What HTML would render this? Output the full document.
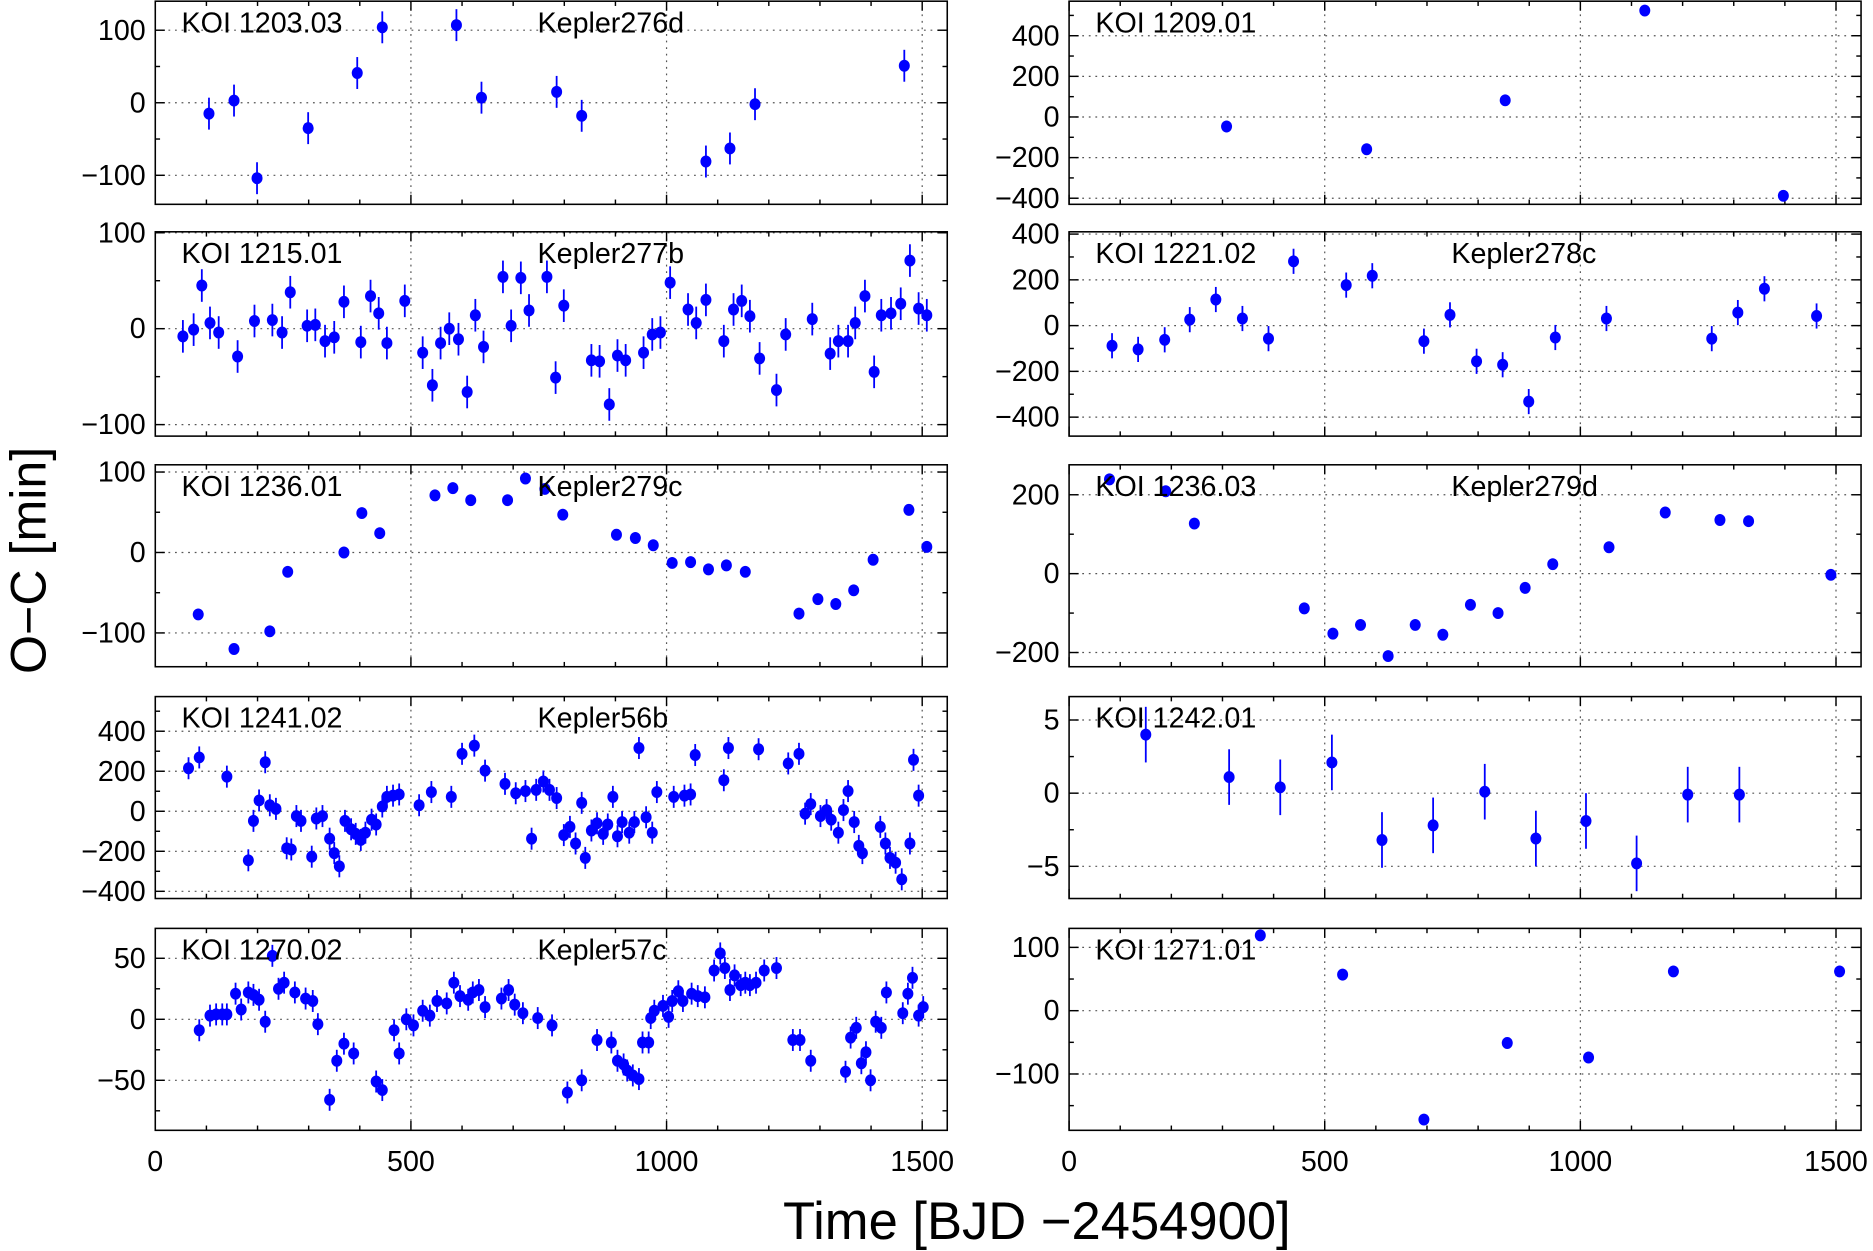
<!DOCTYPE html>
<html><head><meta charset="utf-8"><style>
html,body{margin:0;padding:0;background:#fff}
svg{display:block}
text{font-family:"Liberation Sans",sans-serif;fill:#000}
</style></head><body>
<svg id="fig" width="1873" height="1251" viewBox="0 0 1568 1047" preserveAspectRatio="none" xmlns="http://www.w3.org/2000/svg">
<text x="0" y="0" font-size="42" text-anchor="middle" transform="translate(38,469) rotate(-90)">O−C [min]</text>
<text x="868" y="1037" font-size="44" text-anchor="middle">Time [BJD −2454900]</text>
</svg>
<script>
// ---- data (time in BJD-2454900, O-C in minutes) ----
const p1203_t=[105,154,199,299,395,444,589,638,785,834,1077,1124,1173,1465];
const p1203_v=[-15,3,-104,-35,41,104,107,7,15,-18,-81,-63,-2,51];
const p1209_t=[308,582,853,1126,1397];
const p1209_v=[-47,-159,82,524,-388];
const p1215_t=[54,75,91,107,124,161,194,229,248,264,297,313,332,350,369,402,421,437,453,488,523,542,558,575,593,610,626,642,680,696,715,731,766,783,799,853,869,888,904,920,955,972,988,1007,1042,1058,1077,1112,1131,1147,1163,1182,1215,1233,1285,1320,1336,1355,1369,1388,1406,1420,1439,1458,1476,1493,1509];
const p1215_v=[-8,-1,45,6,-4,-29,8,9,-4,38,3,4,-13,-9,28,-14,34,16,-15,29,-25,-59,-15,0,-11,-66,14,-19,54,3,53,19,54,-51,24,-33,-34,-79,-28,-33,-25,-6,-4,48,20,6,30,-13,20,29,13,-31,-64,-6,10,-26,-13,-13,6,34,-45,14,16,26,71,21,14];
const p1221_t=[84,135,187,236,287,339,390,439,542,593,694,745,797,848,899,951,1051,1257,1308,1360,1462];
const p1221_v=[-88,-104,-62,26,114,31,-57,281,177,218,-68,47,-156,-171,-332,-52,31,-57,57,161,42];
const p1236a_t=[84,154,224,259,369,404,439,547,582,617,689,724,762,797,902,939,974,1011,1047,1082,1117,1154,1259,1296,1331,1366,1404,1474,1509];
const p1236a_v=[-77,-120,-98,-24,0,49,24,71,80,65,65,92,79,47,22,18,9,-13,-12,-21,-16,-24,-76,-58,-64,-47,-9,53,7];
const p1236c_t=[79,189,245,460,516,570,624,677,731,785,839,892,946,1056,1166,1273,1329,1490];
const p1236c_v=[239,209,127,-88,-152,-130,-209,-130,-155,-79,-100,-36,24,67,155,136,133,-3];
const p1241_t=[65,86,140,182,192,203,215,224,236,257,266,276,285,306,315,327,341,350,360,371,383,392,402,411,423,432,444,453,465,477,516,540,579,600,624,645,684,705,724,736,745,759,771,785,799,811,822,834,841,853,864,876,885,895,904,913,927,937,946,960,972,981,1014,1035,1047,1056,1112,1121,1180,1238,1259,1271,1282,1301,1313,1322,1336,1346,1355,1367,1376,1383,1418,1428,1437,1448,1460,1476,1483,1493];
const p1241_v=[215,269,173,-245,-48,54,245,30,12,-185,-191,-24,-48,-227,-36,-24,-137,-209,-275,-48,-90,-113,-143,-107,-42,-66,24,72,78,84,30,96,72,287,328,203,137,90,101,-137,107,149,107,66,-119,-78,-161,42,-233,-96,-60,-113,-66,72,-125,-54,-107,-54,316,-30,-107,96,72,78,84,281,155,316,310,239,287,-12,36,-24,6,-42,-107,6,101,-54,-173,-209,-78,-161,-233,-257,-340,-161,257,78];
const p1242_t=[150,313,413,514,612,712,813,913,1011,1110,1210,1311];
const p1242_v=[4.0,1.1,0.4,2.1,-3.2,-2.2,0.1,-3.1,-1.9,-4.8,-0.1,-0.1];
const p1270_t=[86,107,119,131,140,157,168,182,192,203,215,229,241,252,273,294,308,318,341,355,369,388,432,444,467,477,491,505,523,537,551,570,584,596,612,621,633,645,677,691,703,719,748,776,806,834,864,892,904,916,923,934,946,953,965,969,976,993,1004,1011,1023,1032,1049,1061,1075,1093,1105,1114,1124,1133,1145,1154,1163,1175,1191,1215,1247,1261,1282,1350,1360,1371,1381,1390,1399,1409,1420,1430,1462,1472,1481,1493,1502];
const p1270_v=[-9,3,4,4,4,21,8,22,20,16,-2,52,25,30,22,17,15,-4,-66,-34,-20,-28,-51,-58,-9,-28,0,-5,7,3,15,13,30,19,16,22,24,10,17,24,12,5,1,-5,-60,-50,-17,-19,-34,-37,-42,-46,-49,-19,-19,1,7,11,2,15,23,15,21,19,18,40,54,42,24,36,28,30,28,30,40,42,-17,-17,-34,-43,-15,-7,-36,-27,-50,-2,-7,22,5,21,34,3,10];
const p1271_t=[374,535,694,857,1016,1182,1507];
const p1271_v=[119,57,-172,-51,-74,62,62];

const panels=[
 {id:'koi-1203-03',koi:'KOI 1203.03',kep:'Kepler276d',col:0,row:0,ymin:-140,ymax:140,ticks:[-100,0,100],minor:50,t:p1203_t,v:p1203_v,err:22},
 {id:'koi-1209-01',koi:'KOI 1209.01',kep:'',col:1,row:0,ymin:-430,ymax:570,ticks:[-400,-200,0,200,400],minor:100,t:p1209_t,v:p1209_v,err:0},
 {id:'koi-1215-01',koi:'KOI 1215.01',kep:'Kepler277b',col:0,row:1,ymin:-112,ymax:101,ticks:[-100,0,100],minor:50,t:p1215_t,v:p1215_v,err:17},
 {id:'koi-1221-02',koi:'KOI 1221.02',kep:'Kepler278c',col:1,row:1,ymin:-483,ymax:410,ticks:[-400,-200,0,200,400],minor:100,t:p1221_t,v:p1221_v,err:55},
 {id:'koi-1236-01',koi:'KOI 1236.01',kep:'Kepler279c',col:0,row:2,ymin:-142,ymax:109,ticks:[-100,0,100],minor:50,t:p1236a_t,v:p1236a_v,err:0},
 {id:'koi-1236-03',koi:'KOI 1236.03',kep:'Kepler279d',col:1,row:2,ymin:-236,ymax:276,ticks:[-200,0,200],minor:100,t:p1236c_t,v:p1236c_v,err:0},
 {id:'koi-1241-02',koi:'KOI 1241.02',kep:'Kepler56b',col:0,row:3,ymin:-436,ymax:573,ticks:[-400,-200,0,200,400],minor:100,t:p1241_t,v:p1241_v,err:55},
 {id:'koi-1242-01',koi:'KOI 1242.01',kep:'',col:1,row:3,ymin:-7.2,ymax:6.6,ticks:[-5,0,5],minor:2.5,t:p1242_t,v:p1242_v,err:1.9},
 {id:'koi-1270-02',koi:'KOI 1270.02',kep:'Kepler57c',col:0,row:4,ymin:-91,ymax:74.5,ticks:[-50,0,50],minor:25,t:p1270_t,v:p1270_v,err:9},
 {id:'koi-1271-01',koi:'KOI 1271.01',kep:'',col:1,row:4,ymin:-189,ymax:130,ticks:[-100,0,100],minor:50,t:p1271_t,v:p1271_v,err:0}
];
const xTicks=[0,500,1000,1500];
const rowTop=[1,194,389,583,777], rowBot=[171,365,558,752,946];
const colL=[130,895], colR=[793,1558];
const NS='http://www.w3.org/2000/svg';
const svg=document.getElementById('fig');
function mk(tag,attrs,parent){const e=document.createElementNS(NS,tag);for(const k in attrs)e.setAttribute(k,attrs[k]);(parent||svg).appendChild(e);return e;}
panels.forEach(p=>{
  const x0=colL[p.col],x1=colR[p.col],y0=rowTop[p.row],y1=rowBot[p.row];
  const xs=t=>x0+(t-0)/1549*(x1-x0);
  const ys=v=>y1-(v-p.ymin)/(p.ymax-p.ymin)*(y1-y0);
  const g=mk('g',{});
  
  
  xTicks.forEach(t=>{if(t>0){const l=mk('line',{x1:xs(t),x2:xs(t),y1:y0,y2:y1,stroke:'#555','stroke-width':1,'stroke-dasharray':'1.5,4'},g);}});
  p.ticks.forEach(v=>{const l=mk('line',{x1:x0,x2:x1,y1:ys(v),y2:ys(v),stroke:'#555','stroke-width':1,'stroke-dasharray':'1.5,4'},g);});
  for(let t=0;t<=1500;t+=100){const L=t%500===0?8:4;
    mk('line',{x1:xs(t),x2:xs(t),y1:y1,y2:y1-L,stroke:'#000','stroke-width':1.2},g);
    mk('line',{x1:xs(t),x2:xs(t),y1:y0,y2:y0+L,stroke:'#000','stroke-width':1.2},g);}
  for(let v=Math.ceil(p.ymin/p.minor)*p.minor;v<=p.ymax;v+=p.minor){const maj=p.ticks.includes(v);const L=maj?8:4;
    mk('line',{x1:x0,x2:x0+L,y1:ys(v),y2:ys(v),stroke:'#000','stroke-width':1.2},g);
    mk('line',{x1:x1,x2:x1-L,y1:ys(v),y2:ys(v),stroke:'#000','stroke-width':1.2},g);}
  p.ticks.forEach(v=>{const tx=mk('text',{x:x0-8,y:ys(v)+8,'font-size':24,'text-anchor':'end'},g);tx.textContent=String(v).replace('-','−');
    });
  if(p.row===4){xTicks.forEach(t=>{const tx=mk('text',{x:xs(t),y:980,'font-size':24,'text-anchor':'middle'},g);tx.textContent=t;
    });}
  p.t.forEach((t,i)=>{const cx=xs(t),cy=ys(p.v[i]);
    if(p.err>0){const e=mk('line',{x1:cx,x2:cx,y1:ys(p.v[i]+p.err),y2:ys(p.v[i]-p.err),stroke:'#0000ff','stroke-width':1.5},g);
      }
    const c=mk('ellipse',{cx:cx,cy:cy,rx:4.6,ry:5,fill:'#0000ff'},g);
    
    
  });
  const fr=mk('rect',{x:x0,y:y0,width:x1-x0,height:y1-y0,fill:'none',stroke:'#000','stroke-width':1.3},g);
  
  const k=mk('text',{x:x0+22,y:y0+26,'font-size':24},g);k.textContent=p.koi;
  
  if(p.kep){const kk=mk('text',{x:x0+320,y:y0+26,'font-size':24},g);kk.textContent=p.kep;
    }
});
</script>
</body></html>
